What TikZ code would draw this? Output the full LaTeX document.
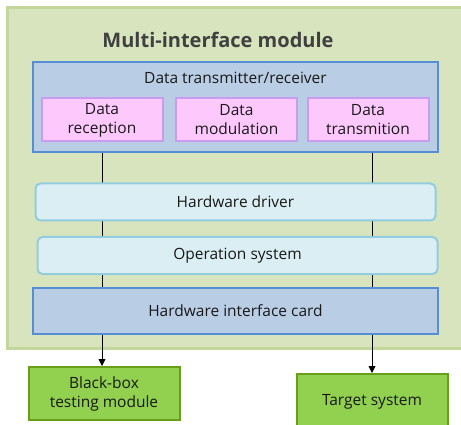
\documentclass[tikz,border=0pt]{standalone}
\usepackage{fontspec}
\setmainfont{Open Sans}
\usetikzlibrary{arrows.meta}
\definecolor{outerfill}{HTML}{D7E4BD}
\definecolor{outerdraw}{HTML}{C3D69B}
\definecolor{bluefill}{HTML}{B9CDE5}
\definecolor{bluedraw}{HTML}{558ED5}
\definecolor{pinkfill}{HTML}{FDC8FC}
\definecolor{pinkdraw}{HTML}{C99CF0}
\definecolor{lbfill}{HTML}{DBEEF4}
\definecolor{lbdraw}{HTML}{93CDDD}
\definecolor{grfill}{HTML}{92D050}
\definecolor{grdraw}{HTML}{689E18}
\definecolor{titlecol}{HTML}{404040}
\tikzset{
  box/.style={rectangle, inner sep=0pt, align=center, font=\fontsize{15.5}{19}\selectfont, text=black!90},
  bluebox/.style={box, fill=bluefill, draw=bluedraw, line width=2pt},
  pinkbox/.style={box, fill=pinkfill, draw=pinkdraw, line width=2pt, minimum width=121pt, minimum height=43pt},
  lbbox/.style={box, fill=lbfill, draw=lbdraw, line width=2pt, rounded corners=5pt, minimum width=400pt, minimum height=37pt},
  grbox/.style={box, fill=grfill, draw=grdraw, line width=2pt, minimum width=151pt},
  conn/.style={draw=black, line width=0.8pt},
  arr/.style={conn, -{Triangle[length=7pt,width=7pt]}}
}
\begin{document}
\begin{tikzpicture}[x=1pt,y=-1pt]
\useasboundingbox (0,0) rectangle (461,425);
\node[fill=outerfill, draw=outerdraw, line width=3pt, minimum width=465pt, minimum height=340pt, inner sep=0pt] (outer) at (240,178) {};
\node[font=\fontsize{20}{24}\selectfont\bfseries, text=titlecol] (title) at (218,40) {Multi-interface module};
\node[bluebox, minimum width=405pt, minimum height=90pt] (datab) at (235.5,107) {};
\node[box] (datalbl) at (235.5,78) {Data transmitter/receiver};
\node[pinkbox] (p1) at (102,120) {Data\\reception};
\node[pinkbox] (p2) at (236.5,120) {Data\\modulation};
\node[pinkbox] (p3) at (368,120) {Data\\transmition};
\node[bluebox, minimum width=405pt, minimum height=46pt] (hwcard) at (235.5,311) {Hardware interface card};
\coordinate (l1) at (102,0);
\coordinate (l2) at (372,0);
\draw[conn] (l1 |- datab.south) -- (l1 |- hwcard.north);
\draw[conn] (l2 |- datab.south) -- (l2 |- hwcard.north);
\node[lbbox] (hwd) at (235.5,202) {Hardware driver};
\node[lbbox] (os) at (237.5,255.5) {Operation system};
\node[grbox, minimum height=53pt] (bb) at (104,393.5) {Black-box\\testing module};
\node[grbox, minimum height=56pt] (ts) at (372,402) {Target system};
\draw[arr] (l1 |- hwcard.south) -- (l1 |- bb.north);
\draw[arr] (l2 |- hwcard.south) -- (l2 |- ts.north);
\end{tikzpicture}
\end{document}
